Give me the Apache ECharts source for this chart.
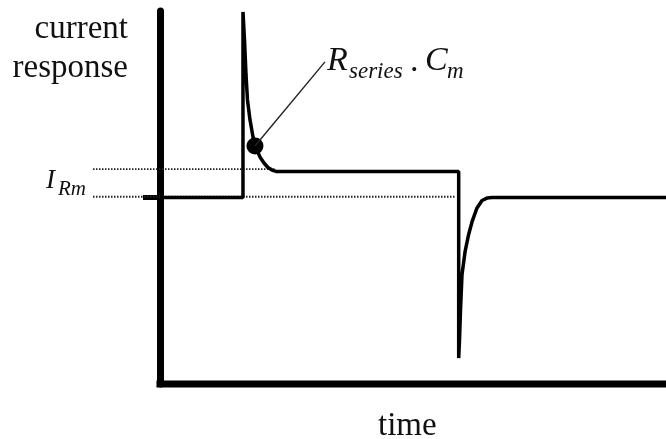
<!DOCTYPE html>
<html>
<head>
<meta charset="utf-8">
<script src="https://cdn.jsdelivr.net/npm/echarts@6/dist/echarts.min.js"></script>
<style>
html,body{margin:0;padding:0;background:#fff;}
#chart{width:666px;height:439px;}
</style>
</head>
<body>
<div id="chart"></div>
<script>
// time (arbitrary units) and current (in units of the steady I_Rm baseline)
var timeMin = -13.24, timeMax = 100;
var traceTime = [0, 16.4, 16.4, 16.7, 17.0, 17.29, 17.79, 18.38, 18.97, 19.76, 20.55, 21.34, 22.13, 22.92,
                 59.03, 59.03, 59.19, 59.39, 59.68, 60.28, 60.97, 61.66, 62.65, 63.64, 64.62, 65.61, 100];
var traceCurrent = [1, 1, 1.995, 1.845, 1.657, 1.523, 1.416, 1.324, 1.265, 1.217, 1.185, 1.161, 1.147, 1.14,
                    1.14, 0.139, 0.236, 0.397, 0.584, 0.708, 0.799, 0.869, 0.944, 0.984, 0.997, 1.0, 1.0];
var upperRefTime = [-13.24, 22.9];
var upperRefCurrent = [1.152, 1.152];
var lowerRefTime = [-13.24, 58.5];
var lowerRefCurrent = [1.004, 1.004];
var timeAxisTime = [-0.7, 100];
var timeAxisCurrent = [0, 0];
var markerTime = [18.77];
var markerCurrent = [1.276];
var leaderTime = [18.77, 32.6];
var leaderCurrent = [1.276, 1.727];
var baselineTick = [1];

function pairs(xs, ys){ return xs.map(function(x,i){ return [x, ys[i]]; }); }

var chart = echarts.init(document.getElementById('chart'), null, {renderer:'canvas'});
var serif = '"Liberation Serif", "Times New Roman", serif';
function txt(s, x, y, size, italic, align){
  return {type:'text', x:x, y:y, z:10,
    style:{text:s, fontFamily:serif, fontSize:size, fontStyle: italic?'italic':'normal',
           fill:'#111', align: align||'left', verticalAlign:'middle'}};
}
chart.setOption({
  animation:false,
  backgroundColor:'#fff',
  grid:{left:93, right:0, top:11, bottom:55},
  xAxis:{type:'value', min:timeMin, max:timeMax,
    axisLine:{show:false},
    axisTick:{show:false}, axisLabel:{show:false}, splitLine:{show:false}},
  yAxis:{type:'value', min:0, max:2,
    axisLine:{show:true, onZero:true, lineStyle:{color:'#000', width:7}},
    axisTick:{show:true, customValues: baselineTick, length:17, lineStyle:{color:'#000', width:5}},
    axisLabel:{show:false}, splitLine:{show:false}},
  series:[
    {type:'line', data:pairs(upperRefTime, upperRefCurrent), symbol:'none', clip:false, silent:true,
      lineStyle:{color:'#222', width:1.8, type:[1.5,1.5]}},
    {type:'line', data:pairs(lowerRefTime, lowerRefCurrent), symbol:'none', clip:false, silent:true,
      lineStyle:{color:'#222', width:1.8, type:[1.5,1.5]}},
    {type:'line', data:pairs(timeAxisTime, timeAxisCurrent), symbol:'none', clip:false, silent:true,
      lineStyle:{color:'#000', width:7}},
    {type:'line', data:pairs(traceTime, traceCurrent), symbol:'none', clip:false,
      lineStyle:{color:'#000', width:3.5, join:'bevel'}},
    {type:'line', data:pairs(leaderTime, leaderCurrent), symbol:'none', clip:false,
      lineStyle:{color:'#222', width:1.4}},
    {type:'scatter', data:pairs(markerTime, markerCurrent), symbolSize:17, itemStyle:{color:'#000', opacity:1}}
  ],
  graphic:[
    txt('current', 128, 29.3, 33, false, 'right'),
    txt('response', 128, 68.6, 33, false, 'right'),
    txt('I', 46, 180.5, 27, true),
    txt('Rm', 58, 189.5, 21, true),
    txt('R', 327, 61, 34, true),
    txt('series', 349, 71.5, 23, true),
    txt('.', 410, 62, 34, false),
    txt('C', 425, 61, 34, true),
    txt('m', 447, 71.5, 23, true),
    txt('time', 378, 426, 33, false)
  ]
});
</script>
</body>
</html>
